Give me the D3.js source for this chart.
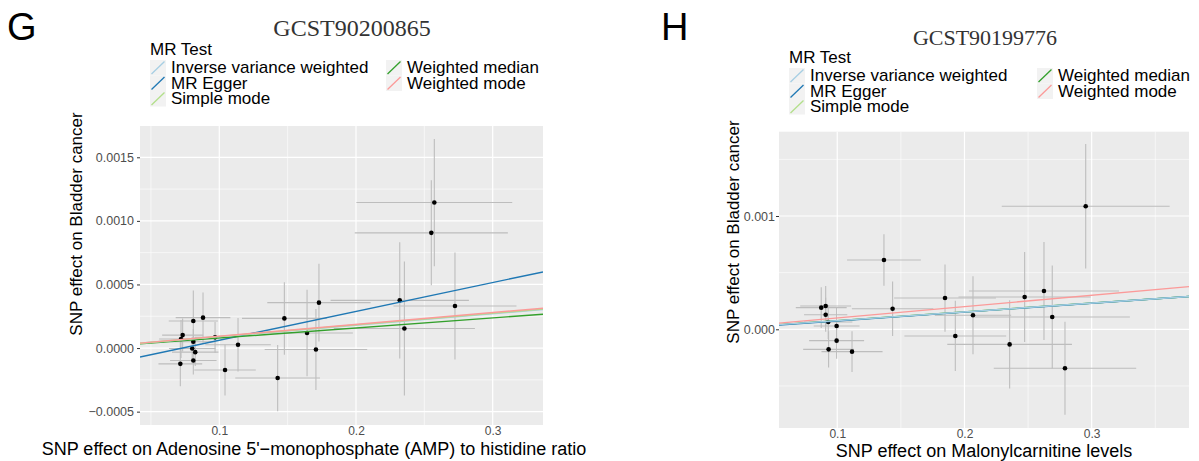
<!DOCTYPE html>
<html><head><meta charset="utf-8">
<script src="https://cdn.jsdelivr.net/npm/d3@7"></script>
<style>
body{margin:0;background:#fff;}
svg{display:block;font-family:"Liberation Sans",Arial,sans-serif;}
</style></head>
<body>
<svg id="chart" width="1199" height="461"></svg>
<script>
// ---- Legend / methods ----
const methods = ["Inverse variance weighted","MR Egger","Simple mode","Weighted median","Weighted mode"];
const methodColors = ["#A6CEE3","#1F78B4","#B2DF8A","#33A02C","#FB9A99"];

// ---- Panel G data ----
const gX    = [0.0715,0.0720,0.0732,0.0810,0.0881,0.0810,0.0802,0.0824,0.0810,0.0969,0.1042,0.1137,0.1427,0.1476,0.1642,0.1707,0.1729,0.2320,0.2354,0.2551,0.2573,0.2724];
const gY    = [-0.000124,0.000071,0.000102,0.000213,0.000239,0.000050,-0.000003,-0.000032,-0.000098,0.000084,-0.000173,0.000026,-0.000236,0.000233,0.000118,-0.000011,0.000357,0.000375,0.000154,0.000906,0.001144,0.000331];
const gXerr = [0.016,0.016,0.015,0.018,0.020,0.016,0.017,0.017,0.017,0.015,0.0225,0.024,0.031,0.031,0.0335,0.0375,0.0378,0.0506,0.0516,0.056,0.057,0.045];
const gYerr = [0.000177,0.00015,0.00013,0.00024,0.000197,0.0001,0.00009,0.00011,0.00011,0.00012,0.0002,0.00021,0.00026,0.000285,0.00034,0.000318,0.000306,0.000457,0.000527,0.000413,0.0005,0.00042];
const gSlopes     = [0.00090,0.00227,0.00091,0.00079,0.00093];
const gIntercepts = [0,-0.000166,0,0,0];
const gYTicks = [-0.0005,0,0.0005,0.0010,0.0015];
const gYMinor = [-0.00025,0.00025,0.00075,0.00125];
const gXTicks = [0.1,0.2,0.3];
const gXMinor = [0.05,0.15,0.25];

// ---- Panel H data ----
const hX    = [0.0874,0.0909,0.0909,0.0929,0.0995,0.0995,0.0932,0.1116,0.1367,0.1435,0.1847,0.1928,0.2067,0.2355,0.2473,0.2625,0.2690,0.2790,0.2953];
const hY    = [0.000191,0.000206,0.000129,0.000064,0.000029,-0.000100,-0.000177,-0.000197,0.000612,0.000182,0.000276,-0.000059,0.000124,-0.000133,0.000285,0.000338,0.000109,-0.000344,0.001086];
const hXerr = [0.020,0.020,0.017,0.019,0.018,0.0216,0.020,0.024,0.029,0.032,0.040,0.040,0.030,0.049,0.052,0.059,0.061,0.056,0.066];
const hYerr = [0.00018,0.000177,0.00015,0.00015,0.00016,0.00016,0.00016,0.00018,0.000228,0.00024,0.000297,0.00031,0.000345,0.00039,0.000397,0.000433,0.000455,0.00041,0.00055];
const hSlopes     = [0.00077,0.00078,0.00077,0.00077,0.00100];
const hIntercepts = [0,-0.000004,0,0,0];
const hYTicks = [0,0.001];
const hYMinor = [-0.0005,0.0005,0.0015];
const hXTicks = [0.1,0.2,0.3];
const hXMinor = [0.15,0.25,0.35];

const svg = d3.select("#chart");

function drawPanel(o){
  const g = svg.append("g");
  const x = d3.scaleLinear().domain(o.xDom).range([o.left,o.right]);
  const y = d3.scaleLinear().domain(o.yDom).range([o.bottom,o.top]);
  const clipId = "clip"+o.id;
  svg.append("clipPath").attr("id",clipId).append("rect")
    .attr("x",o.left).attr("y",o.top).attr("width",o.right-o.left).attr("height",o.bottom-o.top);
  g.append("rect").attr("x",o.left).attr("y",o.top).attr("width",o.right-o.left).attr("height",o.bottom-o.top).attr("fill","#EBEBEB");
  // minor grid
  g.selectAll(".ym").data(o.yMinor).join("line").attr("x1",o.left).attr("x2",o.right)
    .attr("y1",d=>y(d)).attr("y2",d=>y(d)).attr("stroke","#fff").attr("stroke-width",0.6);
  g.selectAll(".xm").data(o.xMinor).join("line").attr("y1",o.top).attr("y2",o.bottom)
    .attr("x1",d=>x(d)).attr("x2",d=>x(d)).attr("stroke","#fff").attr("stroke-width",0.6);
  // major grid
  g.selectAll(".yM").data(o.yTicks).join("line").attr("x1",o.left).attr("x2",o.right)
    .attr("y1",d=>y(d)).attr("y2",d=>y(d)).attr("stroke","#fff").attr("stroke-width",1.2);
  g.selectAll(".xM").data(o.xTicks).join("line").attr("y1",o.top).attr("y2",o.bottom)
    .attr("x1",d=>x(d)).attr("x2",d=>x(d)).attr("stroke","#fff").attr("stroke-width",1.2);

  const pts = o.xs.map((v,i)=>({x:v,y:o.ys[i],xe:o.xe[i],ye:o.ye[i]}));
  const pg = g.append("g").attr("clip-path",`url(#${clipId})`);
  pg.selectAll(".ev").data(pts).join("line")
    .attr("x1",d=>x(d.x)).attr("x2",d=>x(d.x)).attr("y1",d=>y(d.y-d.ye)).attr("y2",d=>y(d.y+d.ye))
    .attr("stroke","#BDBDBD").attr("stroke-width",1.1);
  pg.selectAll(".eh").data(pts).join("line")
    .attr("y1",d=>y(d.y)).attr("y2",d=>y(d.y)).attr("x1",d=>x(d.x-d.xe)).attr("x2",d=>x(d.x+d.xe))
    .attr("stroke","#BDBDBD").attr("stroke-width",1.1);
  pg.selectAll(".pt").data(pts).join("circle")
    .attr("cx",d=>x(d.x)).attr("cy",d=>y(d.y)).attr("r",2.3).attr("fill","#000");
  const lines = o.order.map(i=>({s:o.slopes[i],b:o.ints[i],c:methodColors[i]}));
  pg.selectAll(".ab").data(lines).join("line")
    .attr("x1",x(o.xDom[0])).attr("x2",x(o.xDom[1]))
    .attr("y1",d=>y(d.b+d.s*o.xDom[0])).attr("y2",d=>y(d.b+d.s*o.xDom[1]))
    .attr("stroke",d=>d.c).attr("stroke-width",1.4);

  // axes
  const ya = g.append("g").attr("transform",`translate(${o.left},0)`)
    .call(d3.axisLeft(y).tickValues(o.yTicks).tickFormat(d3.format(o.yFmt)).tickSize(3).tickPadding(o.yPad));
  ya.select(".domain").remove();
  ya.selectAll("line").attr("stroke","#333");
  ya.selectAll("text").attr("fill","#4D4D4D").style("font-size","12.5px");
  const xa = g.append("g").attr("transform",`translate(0,${o.bottom})`)
    .call(d3.axisBottom(x).tickValues(o.xTicks).tickFormat(d3.format(".1f")).tickSize(o.xTick).tickPadding(0));
  xa.select(".domain").remove();
  xa.selectAll("line").attr("stroke","#333");
  xa.selectAll("text").attr("fill","#4D4D4D").style("font-size","12px").attr("y",1).attr("dy","0.71em");

  // titles
  g.append("text").attr("x",o.xtX).attr("y",o.xtY).attr("text-anchor","middle")
    .style("font-size",o.xtSize+"px").attr("fill","#000").text(o.xTitle);
  g.append("text").attr("transform",`translate(${o.ytX},${o.ytY}) rotate(-90)`).attr("text-anchor","middle")
    .style("font-size","17px").attr("fill","#000").text("SNP effect on Bladder cancer");
  g.append("text").attr("x",o.tX).attr("y",o.tY).attr("text-anchor","middle")
    .style("font-family","'Liberation Serif','Times New Roman',serif").style("font-size",o.tSize+"px")
    .attr("fill","#333").text(o.title);
  g.append("text").attr("x",o.lX).attr("y",40).style("font-size","38px").attr("fill","#000").text(o.letter);

  // legend
  const L = g.append("g");
  L.append("text").attr("x",o.legX).attr("y",o.legY).style("font-size","17px").attr("fill","#000").text("MR Test");
  const cols = [[0,1,2],[3,4]];
  cols.forEach((c,ci)=>{
    c.forEach((m,ri)=>{
      const kx = ci===0?o.legX:o.legX2, ky = o.legY+5+ri*15.5;
      L.append("rect").attr("x",kx).attr("y",ky).attr("width",16).attr("height",15.5).attr("fill","#F2F2F2");
      L.append("line").attr("x1",kx+1.5).attr("y1",ky+14).attr("x2",kx+14.5).attr("y2",ky+1.5)
        .attr("stroke",methodColors[m]).attr("stroke-width",1.3);
      L.append("text").attr("x",kx+21).attr("y",ky+13).style("font-size","17px").attr("fill","#000").text(methods[m]);
    });
  });
}

drawPanel({id:"G",xs:gX,ys:gY,xe:gXerr,ye:gYerr,slopes:gSlopes,ints:gIntercepts,order:[1,3,0,2,4],
  xDom:[0.042,0.3368],yDom:[-0.000605,0.001746],left:140,right:543,top:126,bottom:425,
  yTicks:gYTicks,yMinor:gYMinor,xTicks:gXTicks,xMinor:gXMinor,yFmt:".4f",yPad:3,xTick:0,
  xTitle:"SNP effect on Adenosine 5'\u2212monophosphate (AMP) to histidine ratio",xtX:314,xtY:455,xtSize:18,
  ytX:82,ytY:224,title:"GCST90200865",tX:352,tY:36,tSize:24,letter:"G",lX:7,
  legX:150,legY:55,legX2:386});

drawPanel({id:"H",xs:hX,ys:hY,xe:hXerr,ye:hYerr,slopes:hSlopes,ints:hIntercepts,order:[3,2,1,0,4],
  xDom:[0.0542,0.3765],yDom:[-0.000871,0.001744],left:779,right:1189,top:131.7,bottom:428,
  yTicks:hYTicks,yMinor:hYMinor,xTicks:hXTicks,xMinor:hXMinor,yFmt:".3f",yPad:1,xTick:0,
  xTitle:"SNP effect on Malonylcarnitine levels",xtX:984,xtY:457,xtSize:18,
  ytX:739,ytY:232,title:"GCST90199776",tX:985,tY:45,tSize:22,letter:"H",lX:661,
  legX:789,legY:63,legX2:1037});
</script>
</body></html>
